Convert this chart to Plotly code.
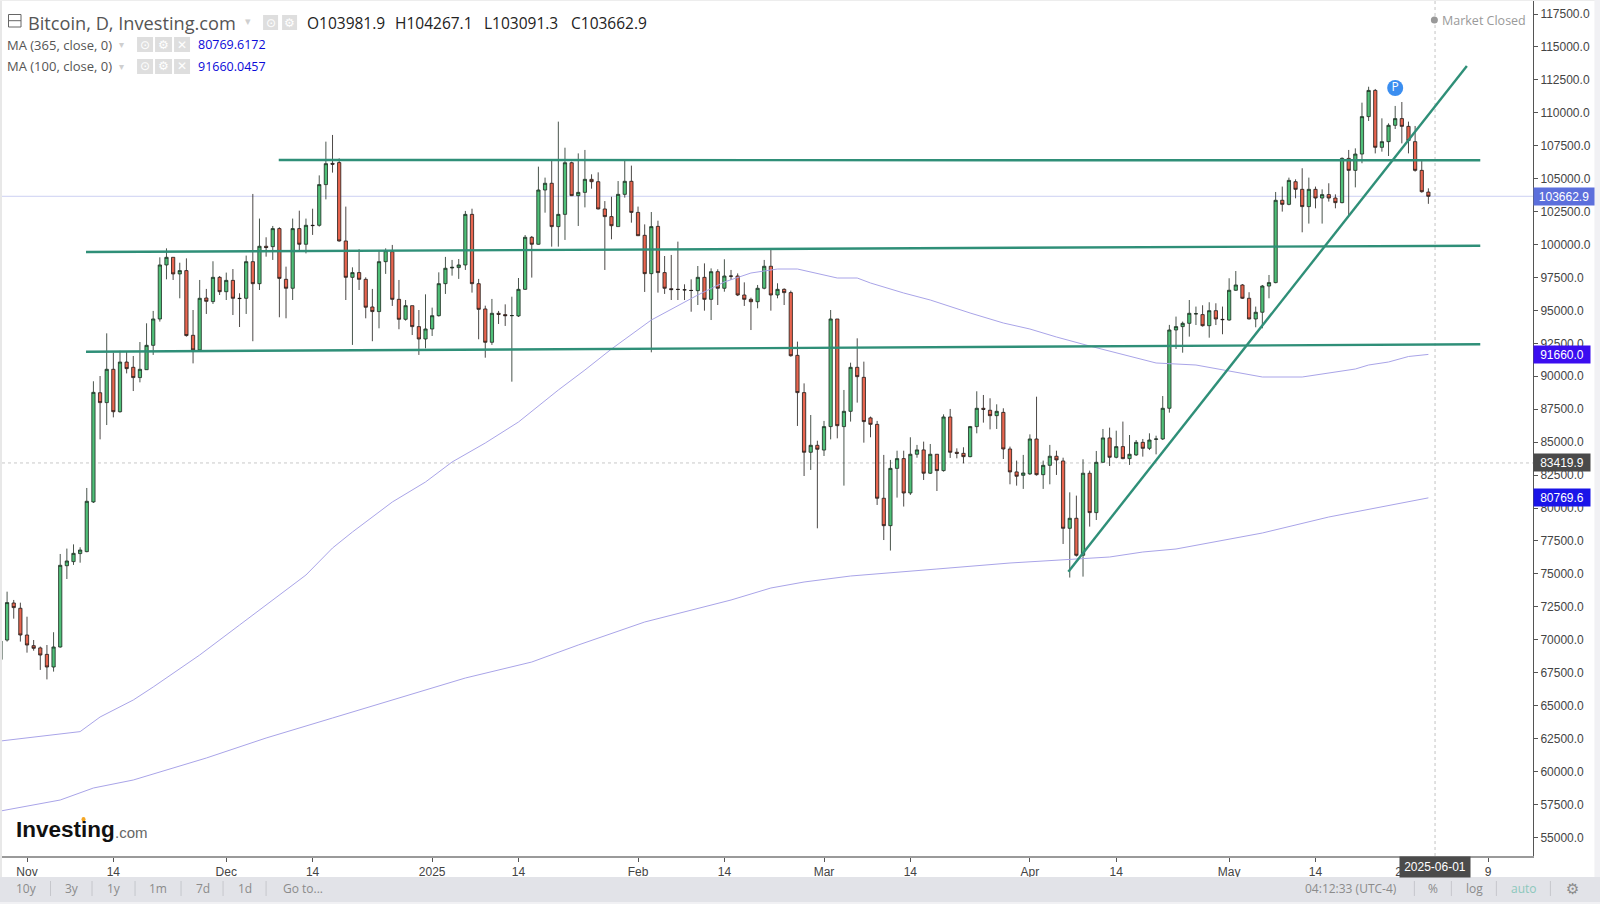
import pandas as pd
import plotly.graph_objects as go

# Daily Bitcoin candles (first is 2024-10-28, last 2025-05-31)
opens = [
    68500, 69980, 72790, 72390, 70360, 69550, 69380, 68890, 67930, 69450,
    75620, 75930, 76540, 76690, 80460, 88750, 88000, 90530, 87310, 91080,
    90680, 89900, 90500, 92350, 94350, 98450, 99030, 97770, 98020, 93110,
    92000, 95940, 95670, 97510, 96420, 97280, 95920, 95920, 98700, 97030,
    99870, 99840, 101210, 97360, 96680, 101210, 100020, 101460, 101460, 104550,
    106160, 106220, 100270, 97510, 97870, 97360, 95260, 94910, 98700, 99460,
    95840, 94325, 95360, 93770, 92830, 93590, 94600, 97030, 98220, 98250,
    98450, 102290, 97030, 95110, 92580, 94780, 94680, 94600, 94580, 96600,
    100550, 100020, 104140, 104650, 101360, 102290, 106210, 103710, 103960, 104950,
    104770, 102700, 102120, 101360, 103810, 104800, 102440, 100700, 97790, 101380,
    97870, 96650, 96600, 96570, 96520, 96500, 97510, 95840, 97940, 96680,
    97610, 97610, 96170, 95840, 95660, 96680, 98350, 96170, 96600, 96350,
    91590, 88760, 84230, 84760, 84400, 86180, 94350, 86180, 87340, 90680,
    89920, 86840, 86350, 80740, 78660, 83010, 83750, 81140, 84080, 84410,
    82640, 84080, 82840, 86910, 84230, 84150, 83900, 86180, 87570, 87420,
    87010, 87260, 84480, 82740, 82480, 82590, 85240, 82530, 83240, 83930,
    83570, 78460, 79220, 76410, 82640, 79650, 83470, 85320, 83850, 84660,
    83750, 84030, 84985, 84530, 85210, 85240, 87570, 93515, 93770, 94020,
    94730, 94680, 93840, 94980, 94320, 94270, 96530, 96930, 95920, 94350,
    94860, 96850, 97110, 103360, 103050, 104770, 104190, 102880, 104190, 103530,
    103790, 103530, 103180, 106540, 105630, 106870, 109710, 111700, 107380, 107810,
    109050, 109560, 108970, 107810, 105630, 103981.9,
]
highs = [
    70030, 73650, 73020, 72815, 71750, 69980, 69480, 69600, 70570, 76510,
    76920, 77240, 77020, 81520, 89620, 90020, 93260, 91800, 91940, 91870,
    91540, 92600, 94020, 94960, 99030, 99710, 99030, 98620, 98950, 95030,
    97310, 96630, 98730, 97610, 97870, 98140, 96300, 99160, 103840, 101970,
    100550, 101410, 101310, 98320, 101970, 102570, 101970, 102720, 105250, 107810,
    108320, 106540, 102880, 98270, 99640, 97510, 96630, 99540, 99710, 99970,
    97310, 95790, 95360, 95030, 96220, 95210, 97890, 99060, 98830, 98900,
    102550, 102720, 97390, 95360, 95870, 94960, 95460, 96040, 97460, 100720,
    100650, 105910, 105080, 106420, 109330, 107350, 106290, 106920, 107180, 105330,
    105480, 103300, 103630, 104820, 106470, 105990, 102880, 101530, 102470, 101810,
    99130, 99210, 100220, 96980, 97360, 98370, 98570, 98190, 98120, 98880,
    98070, 97810, 97130, 95970, 96930, 98830, 99590, 97060, 96680, 96500,
    92630, 89460, 87060, 85110, 86610, 95030, 94350, 88960, 91030, 92880,
    91110, 86940, 86610, 84030, 83650, 84350, 84350, 85370, 84790, 85040,
    84860, 84100, 87110, 87520, 84530, 84610, 86230, 88860, 88580, 88330,
    87870, 87570, 84660, 83600, 84030, 85590, 88450, 83600, 84790, 84350,
    83820, 81190, 80940, 83700, 82840, 84330, 86000, 86100, 85870, 86560,
    85540, 85160, 85240, 85670, 85490, 88500, 93900, 94530, 94150, 95790,
    95290, 95390, 95620, 95540, 95290, 97440, 97990, 97000, 96380, 95290,
    96930, 97690, 103990, 104400, 105080, 104950, 105790, 105080, 104400, 104190,
    104650, 103810, 106620, 107180, 107300, 110770, 111980, 111810, 109580, 109200,
    110520, 110820, 109330, 109000, 106420, 104267.1,
]
lows = [
    68090, 69860, 71600, 69860, 69020, 69170, 67710, 66990, 67580, 69400,
    74610, 75680, 75850, 76640, 80380, 85210, 86300, 86880, 87240, 90220,
    88880, 89540, 90480, 91620, 94150, 97360, 97310, 95920, 93010, 90980,
    91950, 94730, 95490, 96170, 95790, 94650, 93740, 94730, 92660, 96550,
    99080, 98830, 94480, 94400, 95790, 99460, 99330, 100730, 101360, 103430,
    105460, 100220, 95790, 92380, 96550, 94400, 92660, 93640, 97770, 95340,
    93570, 94220, 93130, 91620, 92120, 93060, 94530, 96250, 97640, 97390,
    98070, 96350, 92810, 91410, 92380, 93970, 93820, 89590, 94500, 96550,
    97490, 99990, 102420, 99840, 99840, 100350, 103680, 101410, 102820, 104240,
    102670, 98070, 100400, 101360, 103560, 101660, 100650, 96400, 91820, 96350,
    96250, 95790, 95790, 95790, 94900, 95410, 94980, 94270, 95410, 96420,
    97310, 96090, 95340, 93510, 95160, 96600, 94980, 95920, 95410, 91490,
    86230, 82430, 82890, 78460, 83950, 85210, 85290, 81700, 86560, 88000,
    84960, 85370, 80230, 77570, 76770, 80790, 80110, 80990, 83820, 82130,
    82590, 81290, 82760, 83800, 83770, 83390, 83850, 85670, 86480, 85970,
    86000, 83720, 81800, 81700, 81450, 82510, 82460, 81450, 81800, 82510,
    77270, 74720, 76310, 74790, 78590, 79090, 83440, 83190, 83770, 83700,
    83270, 83950, 83900, 84400, 84075, 85160, 87240, 92070, 91790, 93010,
    93890, 93770, 92930, 93890, 93190, 94220, 96480, 95870, 94320, 93720,
    93640, 95920, 97060, 102500, 102980, 103510, 100930, 101590, 102750, 101590,
    103260, 102750, 103130, 102170, 104340, 106170, 109380, 106920, 107050, 106720,
    108770, 107680, 106920, 105530, 103940, 103091.3,
]
closes = [
    69900, 72820, 72440, 70360, 69600, 69350, 68840, 67930, 69450, 75650,
    75980, 76560, 76810, 80510, 88780, 88000, 90530, 87310, 91080, 90580,
    89900, 90530, 92350, 94350, 98450, 99030, 97770, 98020, 93090, 92000,
    95920, 95690, 97510, 96420, 97280, 95920, 95900, 98700, 97030, 99870,
    99770, 101210, 97430, 96680, 101210, 100020, 101460, 101440, 104550, 106140,
    106100, 100270, 97510, 97870, 97360, 95240, 94910, 98700, 99540, 95840,
    94325, 95360, 93770, 92830, 93590, 94600, 97030, 98200, 98270, 98450,
    102290, 97030, 95080, 92580, 94780, 94700, 94600, 94610, 96600, 100550,
    100020, 104140, 104650, 101360, 102290, 106210, 103710, 103960, 104950, 104770,
    102700, 102120, 101430, 103810, 104800, 102440, 100670, 97790, 101360, 97870,
    96680, 96580, 96590, 96560, 96510, 97510, 95840, 97940, 96680, 97610,
    97600, 96170, 95840, 95660, 96680, 98350, 96170, 96600, 96350, 91560,
    88760, 84230, 84760, 84460, 86180, 94350, 86250, 87340, 90680, 89970,
    86560, 86350, 80740, 78660, 83010, 83750, 81140, 84080, 84410, 82640,
    84080, 82840, 86910, 84230, 84150, 83900, 86180, 87570, 87490, 87010,
    87340, 84480, 82740, 82410, 82660, 85240, 82530, 83240, 83930, 83650,
    78460, 79220, 76410, 82640, 79650, 83470, 85320, 83850, 84660, 83750,
    84080, 84985, 84530, 85160, 85240, 87570, 93515, 93770, 94020, 94780,
    94750, 93840, 94980, 94350, 94300, 96530, 96930, 95920, 94350, 94860,
    96850, 97110, 103360, 103050, 104870, 104190, 102880, 104190, 103530, 103790,
    103530, 103180, 106540, 105630, 106870, 109710, 111700, 107380, 107810, 109050,
    109560, 108970, 107890, 105630, 104010, 103662.9,
]
candle_dates = pd.date_range("2024-10-28", periods=len(closes), freq="D")

# Moving averages, sampled by eye
ma100_dates = ["2024-10-28", "2024-11-03", "2024-11-09", "2024-11-12", "2024-11-17", "2024-11-20",
               "2024-11-27", "2024-12-03", "2024-12-08", "2024-12-13", "2024-12-17", "2024-12-20",
               "2024-12-26", "2024-12-31", "2025-01-04", "2025-01-09", "2025-01-14", "2025-01-20",
               "2025-01-24", "2025-01-28", "2025-02-03", "2025-02-10", "2025-02-14", "2025-02-18",
               "2025-02-22", "2025-02-25", "2025-03-01", "2025-03-03", "2025-03-06", "2025-03-08",
               "2025-03-13", "2025-03-17", "2025-03-23", "2025-03-28", "2025-04-01", "2025-04-05",
               "2025-04-10", "2025-04-14", "2025-04-18", "2025-04-20", "2025-04-26", "2025-05-02",
               "2025-05-06", "2025-05-12", "2025-05-20", "2025-05-22", "2025-05-25", "2025-05-28",
               "2025-05-31"]
ma100_values = [62313, 62693, 63026, 64135, 65426, 66413,
                68842, 71119, 73017, 74914, 76964, 78179,
                80456, 81974, 83492, 84935, 86529, 88958,
                90476, 92070, 94271, 96169, 97156, 97839,
                98143, 98143, 97687, 97460, 97460, 97080,
                96321, 95790, 94803, 94044, 93588, 92981,
                92298, 91766, 91235, 91008, 90856, 90324,
                89945, 89945, 90552, 90856, 91083, 91500,
                91660]
ma365_dates = ["2024-10-28", "2024-11-06", "2024-11-11", "2024-11-17", "2024-11-28", "2024-12-07",
               "2024-12-17", "2024-12-26", "2025-01-06", "2025-01-16", "2025-01-23", "2025-02-02",
               "2025-02-10", "2025-02-15", "2025-02-21", "2025-02-26", "2025-03-05", "2025-03-11",
               "2025-03-18", "2025-03-29", "2025-04-07", "2025-04-13", "2025-04-18", "2025-04-23",
               "2025-05-06", "2025-05-16", "2025-05-31"]
ma365_values = [56999, 57835, 58746, 59353, 61023, 62541,
                64059, 65426, 67096, 68310, 69601, 71347,
                72409, 73017, 73928, 74383, 74839, 75066,
                75370, 75825, 76129, 76281, 76660, 76888,
                78103, 79317, 80769.6]

# Hand drawn trend lines: (date from, date to), (price from, price to)
drawn_lines = [
    (["2024-12-08 21:40", "2025-06-07 19:30"], [106417, 106394]),
    (["2024-11-09 21:15", "2025-06-07 19:30"], [99433, 99912]),
    (["2024-11-09 21:15", "2025-06-07 19:30"], [91865, 92427]),
    (["2025-04-06 19:00", "2025-06-05 19:00"], [75165, 113553]),
]

y_ticks = list(range(55000, 117501, 2500))
y_labels = [f"{v:.1f}" for v in y_ticks]
x_ticks = ["2024-11-01", "2024-11-14", "2024-12-01", "2024-12-14", "2025-01-01", "2025-01-14",
           "2025-02-01", "2025-02-14", "2025-03-01", "2025-03-14", "2025-04-01", "2025-04-14",
           "2025-05-01", "2025-05-14", "2025-05-27", "2025-06-09"]
x_labels = ["Nov", "14", "Dec", "14", "2025", "14", "Feb", "14", "Mar", "14", "Apr", "14", "May", "14", "27", "9"]

# plot area inside the 1600x904 page, in pixels
LEFT, RIGHT, TOP, BOTTOM = 2, 1532.6, 1, 856
GREEN_LINE = "#2f8f78"
MA_COLOR = "#a9a4e8"
FONT = "Open Sans"


def px(x):
    return (x - LEFT) / (RIGHT - LEFT)


def py(y):
    return (BOTTOM - y) / (BOTTOM - TOP)


fig = go.Figure()

fig.add_trace(go.Candlestick(
    x=candle_dates, open=opens, high=highs, low=lows, close=closes,
    increasing=dict(fillcolor="#4fbf78", line=dict(color="#1c2a20", width=0.8)),
    decreasing=dict(fillcolor="#e8654f", line=dict(color="#1f1a18", width=0.8)),
    showlegend=False,
))
for x_vals, y_vals in [(ma100_dates, ma100_values), (ma365_dates, ma365_values)]:
    fig.add_trace(go.Scatter(x=x_vals, y=y_vals, mode="lines", showlegend=False,
                             line=dict(color=MA_COLOR, width=1)))
for x_vals, y_vals in drawn_lines:
    fig.add_trace(go.Scatter(x=x_vals, y=y_vals, mode="lines", showlegend=False,
                             line=dict(color=GREEN_LINE, width=2.4)))
# the "P" pin
fig.add_trace(go.Scatter(x=["2025-05-26"], y=[111883], mode="markers+text", text=["P"],
                         textposition="middle center", showlegend=False,
                         textfont=dict(color="white", size=12, family=FONT),
                         marker=dict(color="#3b8ef0", size=16)))

shapes = [
    # close line and crosshair
    dict(type="line", xref="paper", x0=0, x1=1, yref="y", y0=103662.9, y1=103662.9,
         line=dict(color="#cdd0f2", width=1), layer="below"),
    dict(type="line", xref="paper", x0=0, x1=1, yref="y", y0=83419.9, y1=83419.9,
         line=dict(color="#c9c9c9", width=1, dash="3px,3px"), layer="below"),
    dict(type="line", xref="x", x0="2025-06-01", x1="2025-06-01", yref="paper", y0=0, y1=1,
         line=dict(color="#c4c4c4", width=1, dash="3px,3px"), layer="below"),
]


def rect(x0, y0, x1, y1, fill, line=None):
    shapes.append(dict(type="rect", xref="paper", yref="paper", x0=px(x0), x1=px(x1), y0=py(y0), y1=py(y1),
                       fillcolor=fill, line=dict(color=line or fill, width=1 if line else 0)))


def vline(x, y0, y1, color):
    shapes.append(dict(type="line", xref="paper", yref="paper", x0=px(x), x1=px(x), y0=py(y0), y1=py(y1),
                       line=dict(color=color, width=1)))


annotations = []


def label(x, y, text, size=13, color="#555", anchor="left", family=FONT):
    annotations.append(dict(xref="paper", yref="paper", x=px(x), y=py(y), text=text, showarrow=False,
                            xanchor=anchor, yanchor="middle", borderpad=0,
                            font=dict(size=size, color=color, family=family)))


def price_tag(value, text, color, width=54):
    annotations.append(dict(xref="paper", yref="y", x=1, y=value, text=text, showarrow=False,
                            xanchor="left", yanchor="middle", bgcolor=color, width=width, height=15,
                            align="center", borderpad=1, font=dict(size=12, color="white", family="Liberation Sans")))


def icons(xs, y0, y1, glyphs):
    for (x0, x1), g in zip(xs, glyphs):
        rect(x0, y0, x1, y1, "#dedede")
        label((x0 + x1) / 2, (y0 + y1) / 2, g, size=12, color="white", anchor="center", family="DejaVu Sans")


# page frame and bottom toolbar
rect(0, 0, 2, 904, "#e8e8e8")
rect(0, 0, 1600, 1, "#ededed")
rect(1594, 0, 1600, 904, "#f1f1f4")
rect(0, 877, 1600, 902, "#e2e3e8")
rect(0, 902, 1600, 904, "#f1f1f4")
for x in [50.5, 92, 135, 181, 223, 266, 1414, 1451, 1496, 1550]:
    vline(x, 881, 896, "#c6c7cc")
for x, t in [(26.5, "10y"), (72, "3y"), (114, "1y"), (158, "1m"), (202.5, "7d"), (245, "1d"), (302.5, "Go to..."),
             (1351, "04:12:33 (UTC-4)"), (1433, "%"), (1474, "log")]:
    label(x, 889, t, size=12, color="#8b8b8b", anchor="center")
label(1523.5, 889, "auto", size=12, color="#8cc8bc", anchor="center")
label(1572.5, 889, "⚙", size=15, color="#8b8b8b", anchor="center", family="DejaVu Sans")

# legend block
rect(8.5, 14.5, 21, 27, "white", "#666")
shapes.append(dict(type="line", xref="paper", yref="paper", x0=px(8.5), x1=px(21), y0=py(20.7), y1=py(20.7),
                   line=dict(color="#666", width=1)))
label(27, 22.5, "Bitcoin, D, Investing.com", size=18.2, color="#555")
label(248, 22, "▾", size=11, color="#cfcfcf", anchor="center", family="DejaVu Sans")
icons([(263, 278), (282, 297)], 15, 30, ["⊙", "⚙"])
for x, t in [(306, "O103981.9"), (394, "H104267.1"), (483, "L103091.3"), (570, "C103662.9")]:
    label(x, 22.5, t, size=15.5, color="#222")
for y, name, value in [(44.5, "MA (365, close, 0)", "80769.6172"), (66.5, "MA (100, close, 0)", "91660.0457")]:
    label(6, y, name, size=13, color="#555")
    label(121, y, "▾", size=10, color="#cfcfcf", anchor="center", family="DejaVu Sans")
    icons([(137, 153), (155, 172), (174, 190)], y - 7.5, y + 7.5, ["⊙", "⚙", "✕"])
    label(197, y, value, size=12.5, color="#0a0ad8")

# market status
shapes.append(dict(type="circle", xref="paper", yref="paper", x0=px(1430.5), x1=px(1437.5), y0=py(23.5), y1=py(16.5),
                   fillcolor="#999", line=dict(width=0)))
label(1441, 20, "Market Closed", size=12.5, color="#9a9a9a")

# logo
label(15, 829, "<b>Investing</b>", size=22.5, color="#111", family="Liberation Sans")
label(114, 832, ".com", size=15, color="#666", family="Liberation Sans")
shapes.append(dict(type="circle", xref="paper", yref="paper", x0=px(81.5), x1=px(85.5), y0=py(821.5), y1=py(817),
                   fillcolor="#f5a623", line=dict(width=0)))

# price tags on the right axis
price_tag(103662.9, "103662.9", "#5c6fdc", width=58)
price_tag(91660.0, "91660.0", "#3b0df0")
price_tag(83419.9, "83419.9", "#4a4a4a")
price_tag(80769.6, "80769.6", "#1a14e8")
# date tag under the crosshair
annotations.append(dict(xref="x", yref="paper", x="2025-06-01", y=0, text="2025-06-01", showarrow=False,
                        xanchor="center", yanchor="top", bgcolor="#4b4b4b", width=68, height=18,
                        align="center", borderpad=1, font=dict(size=12, color="white", family="Liberation Sans")))

fig.update_layout(
    width=1600, height=904,
    margin=dict(l=LEFT, r=1600 - RIGHT, t=TOP, b=904 - BOTTOM, pad=0),
    paper_bgcolor="white", plot_bgcolor="white",
    showlegend=False,
    shapes=shapes, annotations=annotations,
    xaxis=dict(
        type="date", range=["2024-10-28 05:38", "2025-06-15 18:00"], rangeslider=dict(visible=False),
        tickmode="array", tickvals=x_ticks, ticktext=x_labels, ticks="outside", ticklen=4, tickcolor="#555",
        showgrid=False, zeroline=False, showline=True, linecolor="#9a9a9a", linewidth=2,
        tickfont=dict(size=12, color="#444", family="Liberation Sans"),
    ),
    yaxis=dict(
        side="right", range=[53584, 118487], tickmode="array", tickvals=y_ticks, ticktext=y_labels,
        ticks="outside", ticklen=4, tickcolor="#555", showgrid=False, zeroline=False,
        showline=True, linecolor="#555", linewidth=1,
        tickfont=dict(size=12, color="#444", family="Liberation Sans"),
    ),
)

fig.write_html("out.html", config=dict(displayModeBar=False), post_script="document.body.style.margin='0';")
